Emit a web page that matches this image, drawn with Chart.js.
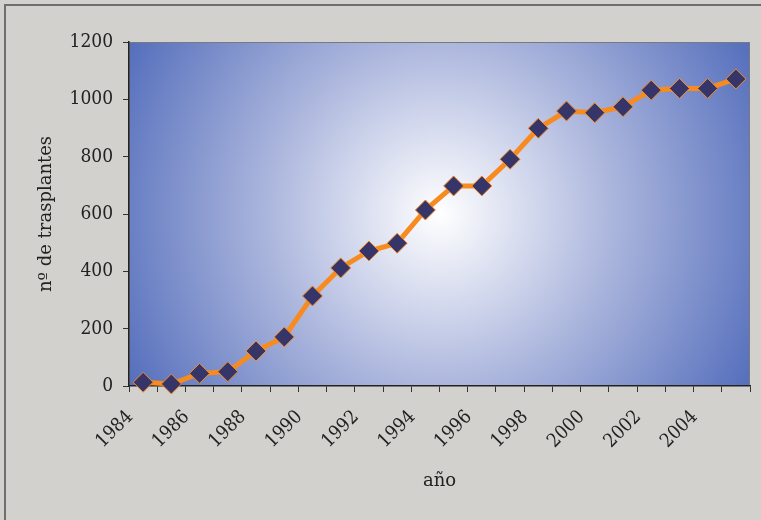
<!DOCTYPE html>
<html>
<head>
<meta charset="utf-8">
<script src="https://cdn.jsdelivr.net/npm/chart.js@4/dist/chart.umd.min.js"></script>
<style>
  html, body { margin: 0; padding: 0; background: #d3d1ce; }
  #wrap { width: 761px; height: 520px; position: relative; }
</style>
</head>
<body>
<div id="wrap"><canvas id="c" width="761" height="520"></canvas></div>
<script>
// Transplants per year
const years = ['1984','1985','1986','1987','1988','1989','1990','1991','1992','1993','1994',
               '1995','1996','1997','1998','1999','2000','2001','2002','2003','2004','2005'];
const transplants = [13, 7, 44, 50, 122, 171, 314, 412, 471, 498, 614,
                     698, 698, 791, 899, 959, 953, 974, 1032, 1038, 1038, 1071];
const xTickLabels = ['1984','1986','1988','1990','1992','1994','1996','1998','2000','2002','2004'];
const yTicks = [0, 200, 400, 600, 800, 1000, 1200];

const tickFont = { family: "'DejaVu Serif Condensed', 'DejaVu Serif', serif", size: 19 };
const titleFont = { family: "'DejaVu Serif', serif", size: 18 };

// Grey page with a frame, and a radial fill behind the plot area
const backdrop = {
  id: 'backdrop',
  beforeDraw(chart) {
    const { ctx, chartArea: a } = chart;
    ctx.save();
    ctx.fillStyle = '#d3d1ce';
    ctx.fillRect(0, 0, chart.width, chart.height);
    ctx.strokeStyle = '#6e6e6e';
    ctx.lineWidth = 2;
    ctx.beginPath();
    ctx.moveTo(5, chart.height);
    ctx.lineTo(5, 5);
    ctx.lineTo(chart.width, 5);
    ctx.stroke();

    const cx = (a.left + a.right) / 2, cy = (a.top + a.bottom) / 2;
    const r = Math.hypot(a.right - cx, a.bottom - cy);
    const g = ctx.createRadialGradient(cx, cy, 0, cx, cy, r);
    g.addColorStop(0, '#ffffff');
    g.addColorStop(0.5, '#a9b4dc');
    g.addColorStop(1, '#546ebc');
    ctx.fillStyle = g;
    ctx.fillRect(a.left, a.top, a.right - a.left, a.bottom - a.top);
    ctx.strokeStyle = '#7a7a7a';
    ctx.lineWidth = 1;
    ctx.strokeRect(a.left + 0.5, a.top + 0.5, a.right - a.left - 1, a.bottom - a.top - 1);
    ctx.restore();
  }
};

new Chart(document.getElementById('c'), {
  type: 'line',
  data: {
    labels: years,
    datasets: [{
      data: transplants,
      borderColor: '#f88b1f',
      borderWidth: 5,
      pointStyle: 'rectRot',
      pointRadius: 10,
      pointHoverRadius: 10,
      pointBackgroundColor: '#35356a',
      pointBorderColor: '#f88b1f',
      pointBorderWidth: 1,
      tension: 0,
      clip: false
    }]
  },
  options: {
    responsive: false,
    animation: false,
    events: [],
    layout: { padding: { top: 42, right: 11, left: 0, bottom: 0 } },
    plugins: { legend: { display: false }, tooltip: { enabled: false } },
    scales: {
      x: {
        type: 'category',
        offset: true,
        grid: { offset: true, drawOnChartArea: false, drawTicks: true, tickLength: 6, color: '#333', lineWidth: 1 },
        border: { color: '#222', width: 1.5 },
        ticks: {
          autoSkip: false,
          maxRotation: 45,
          minRotation: 45,
          padding: 14,
          labelOffset: -13,
          color: '#222',
          font: tickFont,
          callback: (v, i) => xTickLabels.includes(years[i]) ? years[i] : ''
        },
        title: { display: true, text: 'año', color: '#222', font: titleFont, padding: { top: 0, bottom: 28 } },
        afterFit(scale) {
          scale.height = 134;
          scale.paddingLeft = 0;
          scale.paddingRight = 0;
        }
      },
      y: {
        min: 0,
        max: 1200,
        afterBuildTicks(scale) { scale.ticks = yTicks.map(v => ({ value: v })); },
        grid: { drawOnChartArea: false, drawTicks: true, tickLength: 6, color: '#333' },
        border: { color: '#222', width: 1.5 },
        ticks: { padding: 10, color: '#222', font: tickFont, callback: v => String(v) },
        title: { display: true, text: 'nº de trasplantes', color: '#222', font: titleFont, padding: { top: 36, bottom: 0 } },
        afterFit(scale) {
          scale.width = 129;
          scale.paddingTop = 0;
          scale.paddingBottom = 0;
        }
      }
    }
  },
  plugins: [backdrop]
});
</script>
</body>
</html>
